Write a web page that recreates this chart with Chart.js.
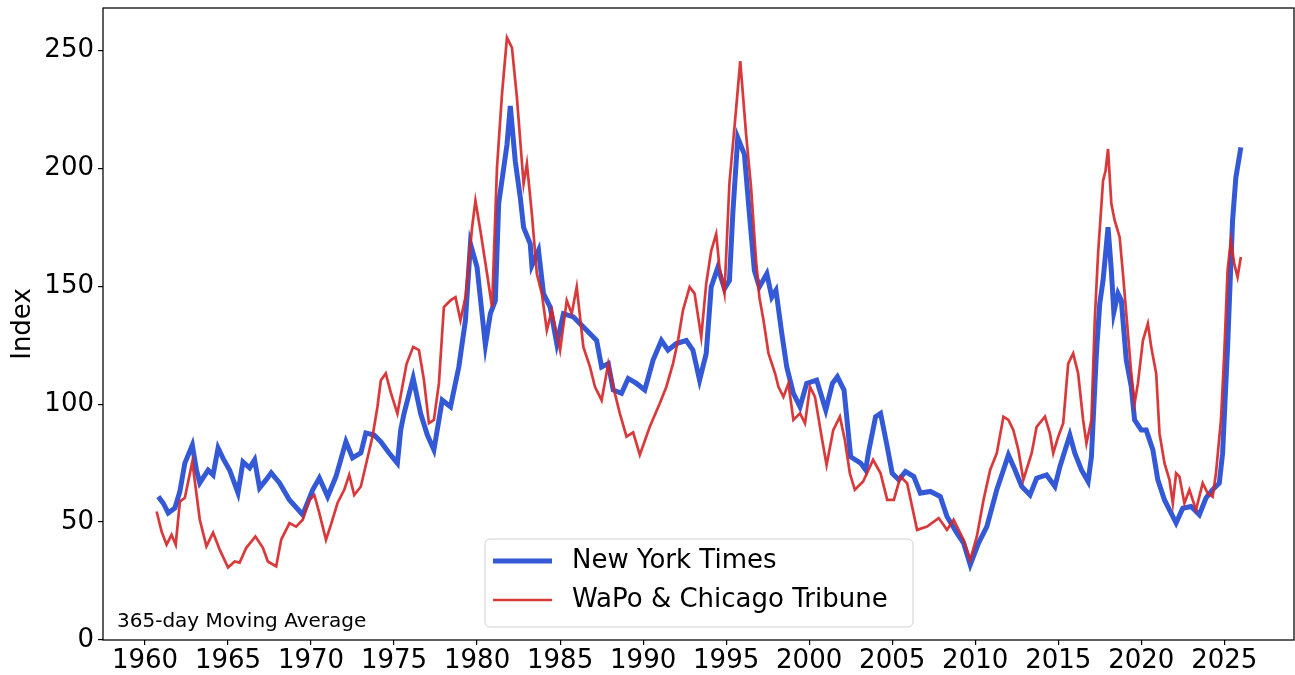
<!DOCTYPE html>
<html>
<head>
<meta charset="utf-8">
<script src="https://cdn.jsdelivr.net/npm/chart.js@4/dist/chart.umd.min.js"></script>
<style>
  body { margin: 0; background: #fff; }
  #wrap { width: 1295px; height: 675px; }
</style>
</head>
<body>
<div id="wrap"><canvas id="my-chart" width="1295" height="675"></canvas></div>
<script>
// New York Times index (365-day moving average)
const nytYears = [1960.8, 1961.1, 1961.4, 1961.8, 1962.1, 1962.4, 1962.85, 1963.1, 1963.3, 1963.8, 1964.1, 1964.4, 1964.7, 1965.1, 1965.6, 1965.9, 1966.3, 1966.6, 1966.9, 1967.3, 1967.6, 1968.1, 1968.7, 1969.5, 1970.1, 1970.5, 1971.0, 1971.5, 1972.1, 1972.5, 1973.0, 1973.3, 1973.8, 1974.2, 1974.7, 1975.2, 1975.4, 1975.6, 1976.15, 1976.6, 1977.0, 1977.4, 1977.9, 1978.4, 1978.9, 1979.3, 1979.6, 1980.0, 1980.5, 1980.8, 1981.1, 1981.3, 1981.8, 1982.0, 1982.3, 1982.6, 1982.8, 1983.2, 1983.3, 1983.7, 1984.0, 1984.4, 1984.8, 1985.2, 1985.8, 1986.6, 1987.2, 1987.5, 1987.9, 1988.2, 1988.7, 1989.1, 1989.6, 1990.1, 1990.6, 1991.1, 1991.5, 1992.0, 1992.6, 1993.0, 1993.4, 1993.8, 1994.1, 1994.5, 1994.9, 1995.2, 1995.4, 1995.7, 1996.1, 1996.4, 1996.7, 1997.0, 1997.45, 1997.75, 1998.0, 1998.35, 1998.65, 1999.05, 1999.45, 1999.85, 2000.45, 2001.0, 2001.4, 2001.7, 2002.1, 2002.5, 2003.1, 2003.4, 2003.6, 2004.0, 2004.3, 2004.7, 2005.0, 2005.4, 2005.8, 2006.3, 2006.7, 2007.3, 2007.9, 2008.3, 2008.9, 2009.3, 2009.7, 2010.2, 2010.7, 2011.3, 2011.7, 2012.0, 2012.4, 2012.8, 2013.3, 2013.7, 2014.3, 2014.8, 2015.1, 2015.7, 2016.0, 2016.4, 2016.8, 2017.0, 2017.3, 2017.5, 2017.7, 2018.0, 2018.2, 2018.35, 2018.6, 2018.8, 2019.1, 2019.4, 2019.6, 2020.0, 2020.3, 2020.7, 2021.0, 2021.4, 2021.8, 2022.1, 2022.5, 2023.0, 2023.5, 2023.9, 2024.3, 2024.7, 2024.9, 2025.2, 2025.5, 2025.7, 2026.0];
const nytValues = [60.8, 58, 53.9, 56, 63, 75, 82.7, 72, 66.6, 72, 70, 81.4, 77, 72, 62.4, 75.5, 73, 76.4, 64.5, 68, 70.9, 66.6, 59.4, 53.1, 63.7, 68.7, 60.8, 69.3, 84.1, 77.2, 79.3, 87.8, 86.9, 84.1, 79.3, 75, 89, 96, 111, 96, 87, 80.6, 101.7, 98.9, 115.8, 135.6, 168, 158, 125, 138.4, 144, 185, 210, 226.5, 203, 187.7, 175, 168, 158.8, 165.2, 146.9, 141.2, 125.7, 138.4, 137, 131.3, 127, 115.8, 117.2, 106, 104.6, 110.9, 108.8, 106, 118.7, 127, 122.9, 125.7, 127, 122.9, 110.2, 121.5, 149.7, 158, 149, 152.5, 180.7, 213, 206, 180.7, 156.7, 149.7, 155.3, 145.4, 148.3, 130, 115.8, 104.6, 98.9, 108.8, 110.2, 97.5, 108.8, 111.6, 106, 77.7, 75, 72.1, 80.6, 94.7, 96.1, 82, 70.7, 67.9, 71.4, 69.3, 62.3, 63, 60.8, 52.4, 45.3, 41.1, 31.9, 41.1, 48.1, 63.7, 72.1, 78.5, 72.1, 65.1, 61.5, 68.6, 70, 65.1, 73.5, 86.9, 79.2, 72.1, 67.2, 77.7, 121.5, 142.6, 152.5, 175, 156.7, 139, 146.9, 144, 118.7, 107.4, 93.3, 89, 89, 80.6, 67.9, 59.4, 53.8, 49.6, 55.9, 56.6, 53.1, 60.2, 63.7, 66.5, 79.2, 124.3, 177.9, 196.2, 208.9];

// WaPo & Chicago Tribune index
const wapoYears = [1960.7, 1961.0, 1961.3, 1961.6, 1961.85, 1962.1, 1962.4, 1962.85, 1963.3, 1963.7, 1964.1, 1964.5, 1965.0, 1965.4, 1965.7, 1966.1, 1966.65, 1967.1, 1967.4, 1967.9, 1968.2, 1968.7, 1969.1, 1969.5, 1969.9, 1970.2, 1970.5, 1970.9, 1971.2, 1971.6, 1972.0, 1972.3, 1972.6, 1973.0, 1973.3, 1973.7, 1974.0, 1974.2, 1974.5, 1974.8, 1975.2, 1975.75, 1976.15, 1976.5, 1976.8, 1977.1, 1977.4, 1977.7, 1978.0, 1978.4, 1978.7, 1979.0, 1979.3, 1979.7, 1979.9, 1980.2, 1980.6, 1980.9, 1981.2, 1981.5, 1981.8, 1982.1, 1982.4, 1982.8, 1983.0, 1983.3, 1983.6, 1983.9, 1984.2, 1984.5, 1985.0, 1985.4, 1985.7, 1986.0, 1986.4, 1986.8, 1987.1, 1987.5, 1987.9, 1988.2, 1988.6, 1989.0, 1989.4, 1989.8, 1990.4, 1991.0, 1991.4, 1991.8, 1992.1, 1992.4, 1992.8, 1993.1, 1993.5, 1993.8, 1994.1, 1994.4, 1994.6, 1994.9, 1995.2, 1995.5, 1995.85, 1996.2, 1996.5, 1996.8, 1997.0, 1997.25, 1997.55, 1997.95, 1998.15, 1998.45, 1998.75, 1999.05, 1999.45, 1999.75, 2000.05, 2000.35, 2000.75, 2001.05, 2001.45, 2001.85, 2002.15, 2002.45, 2002.75, 2003.25, 2003.85, 2004.3, 2004.7, 2005.1, 2005.5, 2005.9, 2006.5, 2007.1, 2007.8, 2008.3, 2008.7, 2009.3, 2009.7, 2010.1, 2010.5, 2010.9, 2011.3, 2011.7, 2012.0, 2012.3, 2012.6, 2012.9, 2013.4, 2013.7, 2014.2, 2014.5, 2014.7, 2015.0, 2015.3, 2015.6, 2015.9, 2016.2, 2016.5, 2016.7, 2017.0, 2017.2, 2017.4, 2017.7, 2017.85, 2018.0, 2018.2, 2018.4, 2018.7, 2018.9, 2019.1, 2019.4, 2019.6, 2019.8, 2020.1, 2020.4, 2020.6, 2020.9, 2021.1, 2021.4, 2021.7, 2021.9, 2022.1, 2022.3, 2022.6, 2022.9, 2023.3, 2023.7, 2024.0, 2024.3, 2024.5, 2024.8, 2025.0, 2025.2, 2025.4, 2025.6, 2025.8, 2026.0];
const wapoValues = [54.5, 46, 40.4, 44.6, 40.4, 58.7, 60.3, 75.6, 51, 39.7, 45.5, 38.3, 30.7, 33.3, 32.8, 39.1, 43.9, 39.1, 33.3, 31.2, 42.5, 49.6, 48.1, 51, 59.4, 61.5, 53.8, 42.5, 48.9, 58.2, 63.7, 70, 61.5, 65.1, 74.2, 86.2, 98.9, 110, 113, 105, 96, 117, 124.3, 122.9, 110.2, 91.9, 93.3, 108.8, 141.2, 144, 145.4, 135.6, 145.4, 175, 186.3, 173.6, 155.3, 141.2, 200.4, 231.5, 255.4, 251.2, 230, 193.4, 202, 180.7, 155.3, 146.9, 131.3, 139.8, 122.9, 144, 138.4, 149.7, 124.3, 115.8, 107.4, 101.7, 117.2, 107.4, 96, 86.2, 88, 78.5, 90.4, 100.3, 107.4, 117.2, 127, 139.8, 149.7, 146.9, 128.5, 151.1, 165, 172.2, 158, 147, 194, 217.3, 245.5, 214.5, 192, 161, 145.4, 135.6, 121.5, 113, 107.4, 103.1, 108.8, 93.3, 96.1, 91.9, 107.4, 103.1, 86.2, 74.2, 89, 94.7, 84.8, 70.7, 63.7, 67.2, 76.4, 70.7, 59.4, 59.4, 69.3, 66.5, 46.7, 48.1, 51.7, 46.7, 51, 42.5, 34, 43.9, 59.4, 72.1, 79.2, 94.7, 93.3, 89, 80.6, 67.9, 79.2, 90.4, 94.7, 87.6, 79.2, 86.2, 91.9, 117.2, 121.5, 113, 93.3, 83.4, 93.3, 135.6, 163.8, 194.8, 199, 208.2, 185, 177.9, 170.8, 155.3, 138.4, 113, 100.3, 108.8, 127, 134.2, 124.3, 113, 87.6, 75, 67.9, 58, 70.7, 69.3, 58, 63.7, 55.2, 66.5, 62.3, 60.8, 70.7, 93.3, 121.5, 156.7, 169.4, 159.6, 153.9, 162.4];

const xTicks = [1960, 1965, 1970, 1975, 1980, 1985, 1990, 1995, 2000, 2005, 2010, 2015, 2020, 2025];
const yTicks = [0, 50, 100, 150, 200, 250];
const seriesNames = ["New York Times", "WaPo & Chicago Tribune"];
const noteText = "365-day Moving Average";

const blue = "#3359d6";
const red = "rgba(214, 36, 38, 0.9)";
const font = "DejaVu Sans";

function toPoints(xs, ys) {
  return xs.map((x, i) => ({ x: x, y: ys[i] }));
}

// frame, in-plot legend and note (matplotlib style)
const extras = {
  id: "extras",
  afterDraw(chart) {
    const c = chart.ctx;
    const a = chart.chartArea;
    c.save();
    c.strokeStyle = "#000";
    c.lineWidth = 1.25;
    c.strokeRect(a.left, a.top, a.right - a.left, a.bottom - a.top);

    // note in lower-left corner
    c.fillStyle = "#000";
    c.font = `20px "${font}"`;
    c.textBaseline = "middle";
    c.textAlign = "left";
    c.fillText(noteText, 117, 622);

    // legend box
    const bx = 485, by = 539, bw = 428, bh = 88, r = 5;
    c.beginPath();
    c.moveTo(bx + r, by);
    c.arcTo(bx + bw, by, bx + bw, by + bh, r);
    c.arcTo(bx + bw, by + bh, bx, by + bh, r);
    c.arcTo(bx, by + bh, bx, by, r);
    c.arcTo(bx, by, bx + bw, by, r);
    c.closePath();
    c.fillStyle = "rgba(255,255,255,0.8)";
    c.fill();
    c.strokeStyle = "#d0d0d0";
    c.lineWidth = 1;
    c.stroke();

    const rows = [
      { y: 561, color: blue, w: 5 },
      { y: 600, color: red, w: 2.7 },
    ];
    rows.forEach((row, i) => {
      c.beginPath();
      c.strokeStyle = row.color;
      c.lineWidth = row.w;
      c.moveTo(493, row.y);
      c.lineTo(552, row.y);
      c.stroke();
      c.fillStyle = "#000";
      c.font = `26px "${font}"`;
      c.fillText(seriesNames[i], 572, row.y);
    });
    c.restore();
  },
};

const ctx = document.getElementById("my-chart").getContext("2d");
const chart = new Chart(ctx, {
  type: "line",
  data: {
    datasets: [
      {
        label: seriesNames[0],
        data: toPoints(nytYears, nytValues),
        borderColor: blue,
        backgroundColor: "transparent",
        borderWidth: 5,
        pointRadius: 0,
        tension: 0,
        order: 2,
      },
      {
        label: seriesNames[1],
        data: toPoints(wapoYears, wapoValues),
        borderColor: red,
        backgroundColor: "transparent",
        borderWidth: 2.7,
        pointRadius: 0,
        tension: 0,
        order: 1,
      },
    ],
  },
  options: {
    responsive: false,
    animation: false,
    layout: { padding: { top: 8, right: 1, left: 0, bottom: 0 } },
    plugins: {
      legend: { display: false },
      tooltip: { enabled: false },
    },
    scales: {
      x: {
        type: "linear",
        min: 1957.47,
        max: 2029.2,
        afterBuildTicks: (s) => { s.ticks = xTicks.map((v) => ({ value: v })); },
        afterFit: (s) => { s.height = 35; s.paddingLeft = 0; s.paddingRight = 0; },
        ticks: {
          color: "#000",
          font: { family: font, size: 26 },
          padding: 1,
          maxRotation: 0,
          autoSkip: false,
          callback: (v) => String(v),
        },
        grid: { display: true, drawOnChartArea: false, drawTicks: true, tickLength: 5, color: "#000", lineWidth: 1.2 },
        border: { display: false },
      },
      y: {
        min: 0,
        max: 268,
        afterBuildTicks: (s) => { s.ticks = yTicks.map((v) => ({ value: v })); },
        afterFit: (s) => { s.width = 103; s.paddingTop = 0; s.paddingBottom = 0; },
        title: {
          display: true,
          text: "Index",
          color: "#000",
          font: { family: font, size: 26 },
          padding: { top: 8, bottom: 0 },
        },
        ticks: {
          color: "#000",
          font: { family: font, size: 26 },
          padding: 4,
          callback: (v) => String(v),
        },
        grid: { display: true, drawOnChartArea: false, drawTicks: true, tickLength: 5, color: "#000", lineWidth: 1.2 },
        border: { display: false },
      },
    },
  },
  plugins: [extras],
});
</script>
</body>
</html>
